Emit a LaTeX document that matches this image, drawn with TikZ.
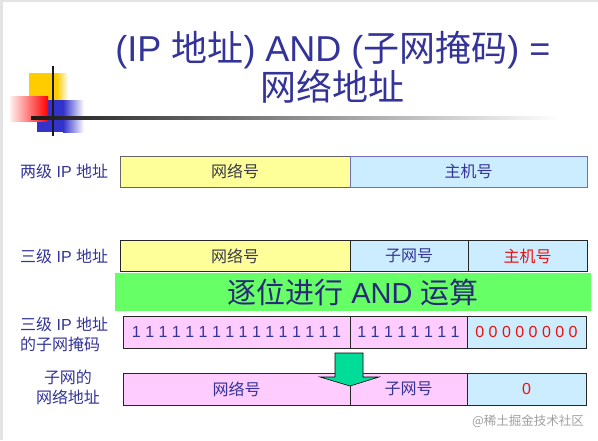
\documentclass[tikz,border=0pt]{standalone}
\usepackage{fontspec}
\setmainfont{Liberation Sans}
\newfontfamily\cjkfont{Noto Sans CJK SC}
\newcommand{\zh}[1]{{\cjkfont #1}}
\usepackage{xcolor}
\definecolor{navy}{HTML}{333399}
\definecolor{inkgray}{HTML}{3A3A4A}
\definecolor{netyellow}{HTML}{FFFF99}
\definecolor{hostblue}{HTML}{CCECFF}
\definecolor{maskpink}{HTML}{FFCCFF}
\definecolor{bandgreen}{HTML}{66FF66}
\definecolor{arrowgreen}{HTML}{00DD99}
\definecolor{hotred}{HTML}{EE1111}
\definecolor{logogold}{HTML}{FFCC00}
\definecolor{logoblue}{HTML}{3333CC}
\usetikzlibrary{positioning, calc}

\begin{document}
\begin{tikzpicture}[x=1pt, y=-1pt,
  field/.style={rectangle, draw=black!85, line width=0.9pt,
    minimum height=31, inner sep=0pt, font=\fontsize{16}{18}\selectfont},
  lbl/.style={inner sep=0pt, text=navy, font=\fontsize{16}{20}\selectfont},
  title/.style={inner sep=0pt, text=navy, align=center,
    font=\fontsize{36}{38}\selectfont}
]
\useasboundingbox (0,0) rectangle (598,440);

%% --- Frame edge ---
\fill[gray!22] (0,0) rectangle (3,440);
\fill[gray!22] (0,0) rectangle (598,2);

%% --- Logo ---
\fill[logogold] (29,73) rectangle (57,100);
\shade[left color=logogold, right color=white] (57,73) rectangle (68,100);
\fill[logoblue] (37,100) rectangle (63,132);
\shade[left color=logoblue, right color=white] (63,100) rectangle (84,132);
\shade[left color=red!6, right color=red] (10,96) rectangle (48,121);
\draw[line width=2.5pt, black!90] (53,66) -- (53,136);
\shade[left color=black!90, right color=white] (31,116.8) rectangle (560,119.2);

%% --- Title ---
\node[title] (head) at (333,67)
  {(IP \zh{地址}) AND (\zh{子网掩码}) =\\\zh{网络地址}};

%% --- Two-level address (y = 171.5) ---
\node[lbl, anchor=west] (twolbl) at (20,171.5) {\zh{两级} IP \zh{地址}};
\node[field, draw=black!60, fill=netyellow, minimum width=230, text=inkgray]
  (twonet) at (235,171.5) {\zh{网络号}};
\node[field, draw=navy!70, fill=hostblue, minimum width=237, text=navy]
  (twohost) at (468.5,171.5) {\zh{主机号}};

%% --- Three-level address (y = 256) ---
\node[lbl, anchor=west] (threelbl) at (20,256) {\zh{三级} IP \zh{地址}};
\node[field, fill=netyellow, minimum width=230, text=inkgray]
  (threenet) at (235,256) {\zh{网络号}};
\node[field, fill=hostblue, minimum width=118, text=navy]
  (threesub) at (409,256) {\zh{子网号}};
\node[field, fill=hostblue, minimum width=119, text=hotred]
  (threehost) at (527.5,256) {\zh{主机号}};

%% --- AND band ---
\node[fill=bandgreen, minimum width=476, minimum height=38, inner sep=0pt,
      text=navy!80!black, font=\fontsize{29}{31}\selectfont]
  (band) at (353,292) {\zh{逐位进行} AND \zh{运算}};

%% --- Subnet mask (y = 332) ---
\node[lbl, anchor=west, align=left] (masklbl) at (20,334)
  {\zh{三级} IP \zh{地址}\\\zh{的子网掩码}};
\node[field, fill=maskpink, minimum width=227, minimum height=32, text=navy]
  (masknet) at (236.5,332) {1 1 1 1 1 1 1 1 1 1 1 1 1 1 1 1};
\node[field, fill=maskpink, minimum width=117, minimum height=32, text=navy]
  (masksub) at (408.5,332) {1 1 1 1 1 1 1 1};
\node[field, fill=hostblue, minimum width=119, minimum height=32, text=hotred]
  (maskhost) at (526.5,332) {0 0 0 0 0 0 0 0};

%% --- Subnet address (y = 389) ---
\node[lbl, align=center] (reslbl) at (68,387) {\zh{子网的}\\\zh{网络地址}};
\node[field, fill=maskpink, minimum width=227, minimum height=32, text=navy]
  (resnet) at (236.5,389) {\zh{网络号}};
\node[field, fill=maskpink, minimum width=117, minimum height=32, text=navy]
  (ressub) at (408.5,389) {\zh{子网号}};
\node[field, fill=hostblue, minimum width=119, minimum height=32, text=hotred]
  (reshost) at (526.5,389) {0};

%% --- Down arrow ---
\filldraw[fill=arrowgreen, draw=black, line width=0.6pt]
  (335,353) -- (363,353) -- (363,377) -- (379,377) -- (350,386)
  -- (320,377) -- (335,377) -- cycle;

%% --- Watermark ---
\node[inner sep=0pt, text=gray!75, font=\fontsize{12.5}{14}\selectfont]
  (mark) at (528,421) {\zh{@稀土掘金技术社区}};

\end{tikzpicture}
\end{document}
